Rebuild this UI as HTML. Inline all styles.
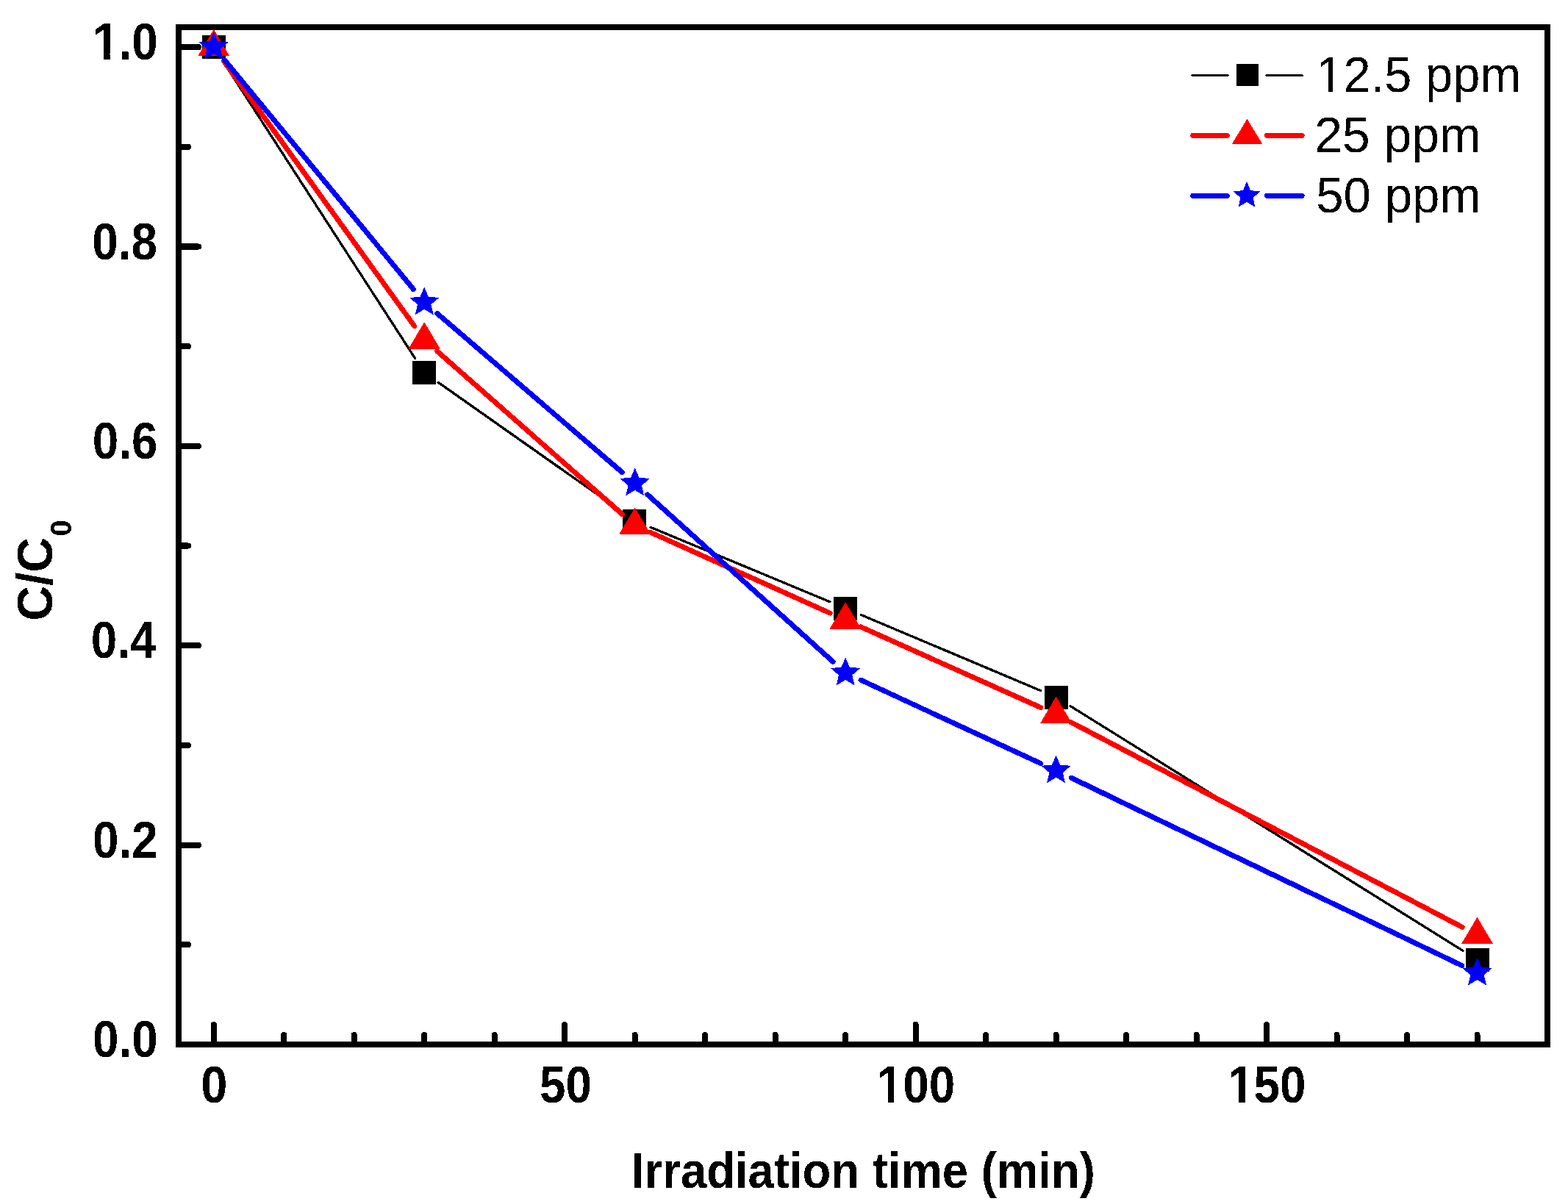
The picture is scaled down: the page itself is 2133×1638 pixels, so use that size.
<!DOCTYPE html>
<html><head><meta charset="utf-8"><title>C/C0 vs Irradiation time</title>
<style>html,body{margin:0;padding:0;background:#fff;}svg{display:block;}</style>
</head><body>
<svg width="2133" height="1638" viewBox="0 0 2133 1638">
<defs><filter id="bin" x="0" y="0" width="1" height="1" color-interpolation-filters="sRGB"><feComponentTransfer><feFuncR type="discrete" tableValues="0 1"/><feFuncG type="discrete" tableValues="0 1"/><feFuncB type="discrete" tableValues="0 1"/></feComponentTransfer></filter></defs>
<g filter="url(#bin)">
<rect width="2133" height="1638" fill="#fff"/>
<g stroke="#000" stroke-width="8" stroke-linecap="round"><line x1="290.74" y1="1417.0" x2="290.74" y2="1394.0" />
<line x1="386.23" y1="1417.0" x2="386.23" y2="1408.0" />
<line x1="481.72" y1="1417.0" x2="481.72" y2="1408.0" />
<line x1="577.21" y1="1417.0" x2="577.21" y2="1408.0" />
<line x1="672.69" y1="1417.0" x2="672.69" y2="1408.0" />
<line x1="768.18" y1="1417.0" x2="768.18" y2="1394.0" />
<line x1="863.67" y1="1417.0" x2="863.67" y2="1408.0" />
<line x1="959.15" y1="1417.0" x2="959.15" y2="1408.0" />
<line x1="1054.64" y1="1417.0" x2="1054.64" y2="1408.0" />
<line x1="1150.13" y1="1417.0" x2="1150.13" y2="1408.0" />
<line x1="1245.62" y1="1417.0" x2="1245.62" y2="1394.0" />
<line x1="1341.10" y1="1417.0" x2="1341.10" y2="1408.0" />
<line x1="1436.59" y1="1417.0" x2="1436.59" y2="1408.0" />
<line x1="1532.08" y1="1417.0" x2="1532.08" y2="1408.0" />
<line x1="1627.56" y1="1417.0" x2="1627.56" y2="1408.0" />
<line x1="1723.05" y1="1417.0" x2="1723.05" y2="1394.0" />
<line x1="1818.54" y1="1417.0" x2="1818.54" y2="1408.0" />
<line x1="1914.03" y1="1417.0" x2="1914.03" y2="1408.0" />
<line x1="2009.51" y1="1417.0" x2="2009.51" y2="1408.0" />
<line x1="247.0" y1="1421.00" x2="270.0" y2="1421.00" />
<line x1="247.0" y1="1285.31" x2="256.0" y2="1285.31" />
<line x1="247.0" y1="1149.63" x2="270.0" y2="1149.63" />
<line x1="247.0" y1="1013.94" x2="256.0" y2="1013.94" />
<line x1="247.0" y1="878.25" x2="270.0" y2="878.25" />
<line x1="247.0" y1="742.57" x2="256.0" y2="742.57" />
<line x1="247.0" y1="606.88" x2="270.0" y2="606.88" />
<line x1="247.0" y1="471.20" x2="256.0" y2="471.20" />
<line x1="247.0" y1="335.51" x2="270.0" y2="335.51" />
<line x1="247.0" y1="199.82" x2="256.0" y2="199.82" />
<line x1="247.0" y1="64.14" x2="270.0" y2="64.14" /></g>
<rect x="243.0" y="37.0" width="1862.0" height="1384.0" fill="none" stroke="#000" stroke-width="8"/>
<text font-family="'Liberation Sans', sans-serif" font-weight="bold" font-size="69.5" transform="translate(126.02,1438.00) scale(0.9180,1)">0.0</text>
<text font-family="'Liberation Sans', sans-serif" font-weight="bold" font-size="69.5" transform="translate(125.96,1166.63) scale(0.9180,1)">0.2</text>
<text font-family="'Liberation Sans', sans-serif" font-weight="bold" font-size="69.5" transform="translate(123.75,895.25) scale(0.9180,1)">0.4</text>
<text font-family="'Liberation Sans', sans-serif" font-weight="bold" font-size="69.5" transform="translate(125.71,623.88) scale(0.9180,1)">0.6</text>
<text font-family="'Liberation Sans', sans-serif" font-weight="bold" font-size="69.5" transform="translate(125.37,352.51) scale(0.9180,1)">0.8</text>
<text font-family="'Liberation Sans', sans-serif" font-weight="bold" font-size="69.5" transform="translate(126.02,81.14) scale(0.9180,1)">1.0</text><g fill="#fff" transform="translate(126.02,81.14) scale(0.9180,1)"><rect x="3.53" y="-8.62" width="12.69" height="10.12"/><rect x="25.76" y="-8.62" width="11.81" height="10.12"/></g>
<text font-family="'Liberation Sans', sans-serif" font-weight="bold" font-size="69.5" transform="translate(273.22,1500.30) scale(0.9350,1)">0</text>
<text font-family="'Liberation Sans', sans-serif" font-weight="bold" font-size="69.5" transform="translate(734.02,1500.30) scale(0.9180,1)">50</text>
<text font-family="'Liberation Sans', sans-serif" font-weight="bold" font-size="69.5" transform="translate(1192.69,1500.30) scale(0.9180,1)">100</text><g fill="#fff" transform="translate(1192.69,1500.30) scale(0.9180,1)"><rect x="3.53" y="-8.62" width="12.69" height="10.12"/><rect x="25.76" y="-8.62" width="11.81" height="10.12"/></g>
<text font-family="'Liberation Sans', sans-serif" font-weight="bold" font-size="69.5" transform="translate(1670.13,1500.30) scale(0.9180,1)">150</text><g fill="#fff" transform="translate(1670.13,1500.30) scale(0.9180,1)"><rect x="3.53" y="-8.62" width="12.69" height="10.12"/><rect x="25.76" y="-8.62" width="11.81" height="10.12"/></g>
<text font-family="'Liberation Sans', sans-serif" font-weight="bold" font-size="68.0" transform="translate(858.96,1615.80) scale(0.9329,1)">Irradiation time (min)</text>
<text font-family="'Liberation Sans', sans-serif" font-weight="bold" font-size="69" transform="translate(71.3,844.71) rotate(-90) scale(0.9578,1)">C/C</text>
<text font-family="'Liberation Sans', sans-serif" font-weight="bold" font-size="41" transform="translate(97.4,729.57) rotate(-90) scale(0.9693,1)">0</text>
<line x1="303.23" y1="83.21" x2="564.72" y2="487.59" stroke="#000" stroke-width="3.3" stroke-linecap="round"/>
<line x1="596.01" y1="520.14" x2="844.86" y2="695.26" stroke="#000" stroke-width="3.3" stroke-linecap="round"/>
<line x1="884.91" y1="717.32" x2="1128.89" y2="818.68" stroke="#000" stroke-width="3.3" stroke-linecap="round"/>
<line x1="1171.32" y1="836.44" x2="1415.40" y2="939.46" stroke="#000" stroke-width="3.3" stroke-linecap="round"/>
<line x1="1456.11" y1="960.57" x2="1989.99" y2="1293.33" stroke="#000" stroke-width="3.3" stroke-linecap="round"/>
<rect x="275" y="48" width="32" height="32" fill="#000"/>
<rect x="561" y="491" width="32" height="32" fill="#000"/>
<rect x="847" y="693" width="32" height="32" fill="#000"/>
<rect x="1134" y="812" width="32" height="32" fill="#000"/>
<rect x="1421" y="933" width="32" height="32" fill="#000"/>
<rect x="1994" y="1290" width="32" height="32" fill="#000"/>
<line x1="304.17" y1="82.77" x2="563.78" y2="443.73" stroke="#f00" stroke-width="7" stroke-linecap="round"/>
<line x1="594.47" y1="477.60" x2="846.41" y2="699.50" stroke="#f00" stroke-width="7" stroke-linecap="round"/>
<line x1="884.64" y1="724.13" x2="1129.15" y2="834.07" stroke="#f00" stroke-width="7" stroke-linecap="round"/>
<line x1="1171.12" y1="852.91" x2="1415.60" y2="962.49" stroke="#f00" stroke-width="7" stroke-linecap="round"/>
<line x1="1456.96" y1="982.57" x2="1989.14" y2="1261.33" stroke="#f00" stroke-width="7" stroke-linecap="round"/>
<polygon points="290.74,39.80 312.24,76.20 269.24,76.20" fill="#f00"/>
<polygon points="577.21,438.10 598.71,474.50 555.71,474.50" fill="#f00"/>
<polygon points="863.67,690.40 885.17,726.80 842.17,726.80" fill="#f00"/>
<polygon points="1150.13,819.20 1171.63,855.60 1128.63,855.60" fill="#f00"/>
<polygon points="1436.59,947.60 1458.09,984.00 1415.09,984.00" fill="#f00"/>
<polygon points="2009.51,1247.70 2031.01,1284.10 1988.01,1284.10" fill="#f00"/>
<line x1="305.37" y1="81.45" x2="562.58" y2="393.65" stroke="#00f" stroke-width="7" stroke-linecap="round"/>
<line x1="594.65" y1="426.39" x2="846.22" y2="642.51" stroke="#00f" stroke-width="7" stroke-linecap="round"/>
<line x1="880.76" y1="672.89" x2="1133.04" y2="900.11" stroke="#00f" stroke-width="7" stroke-linecap="round"/>
<line x1="1170.99" y1="925.17" x2="1415.72" y2="1038.63" stroke="#00f" stroke-width="7" stroke-linecap="round"/>
<line x1="1457.32" y1="1058.26" x2="1988.78" y2="1313.54" stroke="#00f" stroke-width="7" stroke-linecap="round"/>
<polygon points="290.74,42.80 296.41,56.05 311.02,57.24 299.91,66.62 303.27,80.61 290.74,73.15 278.21,80.61 281.58,66.62 270.47,57.24 285.08,56.05" fill="#00f"/>
<polygon points="577.21,390.50 582.87,403.75 597.48,404.94 586.37,414.32 589.74,428.31 577.21,420.85 564.67,428.31 568.04,414.32 556.93,404.94 571.54,403.75" fill="#00f"/>
<polygon points="863.67,636.60 869.33,649.85 883.94,651.04 872.83,660.42 876.20,674.41 863.67,666.95 851.14,674.41 854.50,660.42 843.39,651.04 858.00,649.85" fill="#00f"/>
<polygon points="1150.13,894.60 1155.79,907.85 1170.40,909.04 1159.30,918.42 1162.66,932.41 1150.13,924.95 1137.60,932.41 1140.96,918.42 1129.85,909.04 1144.46,907.85" fill="#00f"/>
<polygon points="1436.59,1027.40 1442.26,1040.65 1456.86,1041.84 1445.76,1051.22 1449.12,1065.21 1436.59,1057.75 1424.06,1065.21 1427.42,1051.22 1416.32,1041.84 1430.92,1040.65" fill="#00f"/>
<polygon points="2009.51,1302.60 2015.18,1315.85 2029.79,1317.04 2018.68,1326.42 2022.04,1340.41 2009.51,1332.95 1996.98,1340.41 2000.35,1326.42 1989.24,1317.04 2003.85,1315.85" fill="#00f"/>
<line x1="1622.0" y1="102.5" x2="1670.0" y2="102.5" stroke="#000" stroke-width="3.1" stroke-linecap="round"/>
<line x1="1723.0" y1="102.5" x2="1771.5" y2="102.5" stroke="#000" stroke-width="3.1" stroke-linecap="round"/>
<rect x="1682" y="87" width="30" height="30" fill="#000"/>
<line x1="1622.7" y1="184.2" x2="1669.2" y2="184.2" stroke="#f00" stroke-width="7" stroke-linecap="round"/>
<line x1="1723.5" y1="184.2" x2="1771.1" y2="184.2" stroke="#f00" stroke-width="7" stroke-linecap="round"/>
<polygon points="1696.50,161.80 1717.10,195.80 1675.90,195.80" fill="#f00"/>
<line x1="1622.7" y1="266.3" x2="1669.2" y2="266.3" stroke="#00f" stroke-width="7" stroke-linecap="round"/>
<line x1="1723.5" y1="266.3" x2="1771.1" y2="266.3" stroke="#00f" stroke-width="7" stroke-linecap="round"/>
<polygon points="1696.00,247.00 1701.22,259.16 1714.63,260.27 1704.44,268.89 1707.51,281.73 1696.00,274.90 1684.49,281.73 1687.56,268.89 1677.37,260.27 1690.78,259.16" fill="#00f"/>
<text font-family="'Liberation Sans', sans-serif" font-size="68.3" transform="translate(1790.30,125.00) scale(0.9794,1)">12.5 ppm</text><g fill="#fff" transform="translate(1790.30,125.00) scale(0.9794,1)"><rect x="4.37" y="-6.60" width="12.81" height="8.10"/><rect x="23.21" y="-6.60" width="12.27" height="8.10"/></g>
<text font-family="'Liberation Sans', sans-serif" font-size="68.3" transform="translate(1788.29,207.00) scale(0.9928,1)">25 ppm</text>
<text font-family="'Liberation Sans', sans-serif" font-size="68.3" transform="translate(1790.21,289.30) scale(0.9842,1)">50 ppm</text>
</g>
</svg>
</body></html>
